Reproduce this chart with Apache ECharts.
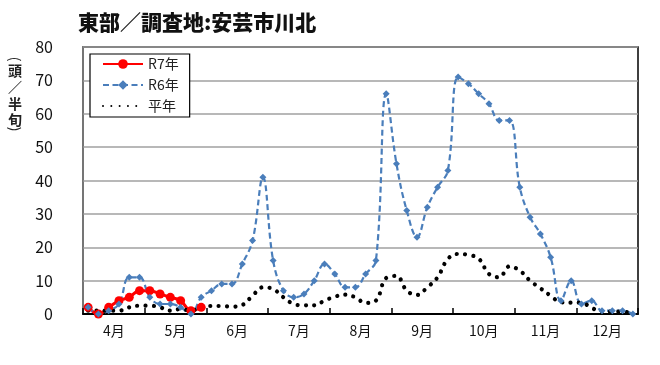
<!DOCTYPE html>
<html>
<head>
<meta charset="utf-8">
<script src="https://cdn.jsdelivr.net/npm/echarts@6/dist/echarts.min.js"></script>
<style>
html,body{margin:0;padding:0;background:#fff;}
#c{width:660px;height:365px;}
</style>
</head>
<body>
<div id="c"></div>
<script>
// Month tick labels
const months = ['4月','5月','6月','7月','8月','9月','10月','11月','12月'];
// Six half-month periods (半旬) per month
const halfPeriods = ['1','2','3','4','5','6'];
// Series values (頭／半旬)
const r7 = [2, 0, 2, 4, 5, 7, 7, 6, 5, 4, 1, 2];
const r6 = [2, 0, 1, 3, 11, 11, 5, 3, 3, 2, 0, 5,
            7, 9, 9, 15, 22, 41, 16, 7, 5, 6, 10, 15,
            12, 8, 8, 12, 16, 66, 45, 31, 23, 32, 38, 43,
            71, 69, 66, 63, 58, 58, 38, 29, 24, 17, 4, 10,
            3, 4, 1, 1, 1, 0];
const avg = [1, 1, 1, 1, 2, 2.5, 2.5, 2, 1, 1.5, 1, 2,
             2.4, 2.4, 2.2, 2.7, 5.5, 8, 7.5, 5, 3, 2.6, 2.6, 4,
             5.2, 5.8, 5, 3.3, 4, 10.8, 11.4, 7, 5.7, 8, 11, 16.5,
             18, 17.7, 16.6, 12, 11, 14.3, 13, 10, 7.7, 5.5, 3.5, 3.4,
             3.4, 1.8, 0.8, 0.7, 0.7, 0.2];
const yTicks = [0, 10, 20, 30, 40, 50, 60, 70, 80];

const categories = [];
months.forEach(m => halfPeriods.forEach(h => categories.push(m + h)));

const FONT = '"Noto Sans CJK JP", "Noto Sans", sans-serif';
const chart = echarts.init(document.getElementById('c'), null, {renderer: 'canvas'});
chart.setOption({
  backgroundColor: '#fff',
  animation: false,
  title: {
    text: '東部／調査地:安芸市川北',
    left: 73, top: 7,
    textStyle: {fontFamily: FONT, fontSize: 21, fontWeight: 900, color: '#111'}
  },
  graphic: [{
    type: 'text', x: 15, y: 59, rotation: -Math.PI / 2,
    style: {text: '(', fontFamily: FONT, fontSize: 14, fill: '#222', align: 'center', verticalAlign: 'middle'}
  }, {
    type: 'text', x: 15, y: 62,
    style: {
      text: '頭\n／\n半\n旬',
      fontFamily: FONT, fontSize: 14, lineHeight: 16.5, fontWeight: 'bold',
      fill: '#222', align: 'center', verticalAlign: 'top'
    }
  }, {
    type: 'text', x: 15, y: 129, rotation: -Math.PI / 2,
    style: {text: ')', fontFamily: FONT, fontSize: 14, fill: '#222', align: 'center', verticalAlign: 'middle'}
  }],
  legend: {
    orient: 'vertical',
    left: 90, top: 54,
    padding: [3, 11, 4, 12],
    itemWidth: 40, itemHeight: 12, itemGap: 7,
    borderColor: '#000', borderWidth: 1.2, borderRadius: 0,
    backgroundColor: '#fff',
    textStyle: {fontFamily: FONT, fontSize: 14, color: '#222'},
    data: ['R7年', 'R6年', '平年']
  },
  grid: {
    left: 83, right: 22, top: 47, bottom: 51,
    show: true, borderColor: '#000', borderWidth: 1.5, backgroundColor: 'transparent'
  },
  xAxis: [{
    type: 'category',
    data: categories,
    boundaryGap: true,
    position: 'bottom',
    axisLine: {show: true, lineStyle: {color: '#000', width: 2}},
    axisTick: {show: false},
    axisLabel: {show: false},
    splitLine: {show: false}
  }, {
    type: 'category',
    data: months,
    boundaryGap: true,
    position: 'bottom',
    axisLine: {show: false},
    axisTick: {show: true, inside: true, length: 6, lineStyle: {color: '#000', width: 1.5}},
    axisLabel: {show: true, interval: 0, margin: 10, fontFamily: FONT, fontSize: 14, color: '#111'},
    splitLine: {show: false}
  }],
  yAxis: {
    type: 'value',
    min: yTicks[0], max: yTicks[yTicks.length - 1], interval: 10,
    axisLine: {show: true, lineStyle: {color: '#888', width: 1.5}},
    axisTick: {show: false},
    axisLabel: {margin: 30, fontFamily: FONT, fontSize: 16, color: '#111'},
    splitLine: {show: true, lineStyle: {color: '#a0a0a0', width: 1.5}}
  },
  series: [{
    name: 'R7年',
    type: 'line',
    xAxisIndex: 0,
    data: r7,
    smooth: 0.4,
    showAllSymbol: true,
    symbol: 'circle', symbolSize: 9,
    lineStyle: {color: '#ff0000', width: 3},
    itemStyle: {color: '#ff0000'}
  }, {
    name: 'R6年',
    type: 'line',
    xAxisIndex: 0,
    data: r6,
    smooth: 0.4,
    showAllSymbol: true,
    symbol: 'diamond', symbolSize: 7,
    lineStyle: {color: '#4a7ebb', width: 2.2, type: [6, 3.5]},
    itemStyle: {color: '#4a7ebb'}
  }, {
    name: '平年',
    type: 'line',
    xAxisIndex: 0,
    data: avg,
    smooth: 0.4,
    showSymbol: false,
    symbol: 'circle',
    lineStyle: {color: '#000', width: 4.2, type: [0.01, 8.3], cap: 'round'},
    itemStyle: {color: 'rgba(0,0,0,0)', borderWidth: 0}
  }]
});
</script>
</body>
</html>
